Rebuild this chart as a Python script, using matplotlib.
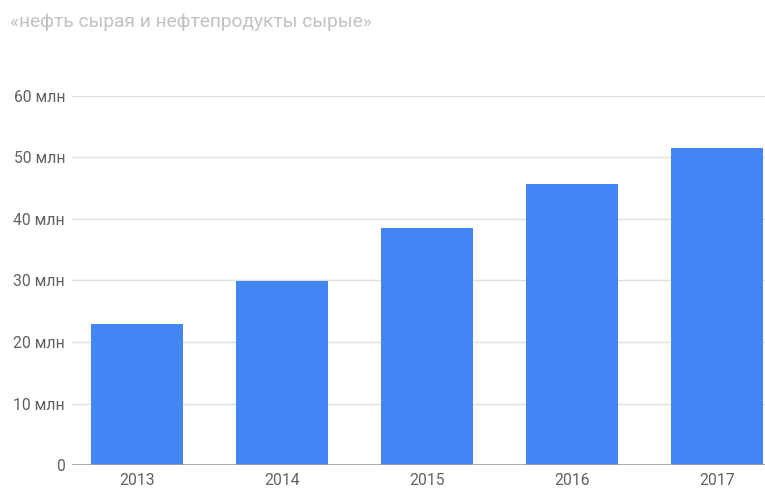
import matplotlib
matplotlib.use("Agg")
import matplotlib.pyplot as plt

years = ["2013", "2014", "2015", "2016", "2017"]
values = [22.9, 29.9, 38.5, 45.7, 51.5]  # млн
yticks = [0, 10, 20, 30, 40, 50, 60]
ytick_labels = ["0", "10 млн", "20 млн", "30 млн", "40 млн", "50 млн", "60 млн"]
title = "«нефть сырая и нефтепродукты сырые»"

plt.rcParams['font.family'] = ['Roboto', 'DejaVu Sans']

fig = plt.figure(figsize=(7.65, 4.9), dpi=100)
ax = fig.add_axes([72/765, 25/490, 1 - 72/765, (465-96)/490])

x = list(range(len(years)))
ax.bar(x, values, width=0.634, color="#4285F4", zorder=3)

ax.set_ylim(0, 60)
ax.set_xlim((72-137)/145, (765-137)/145)
ax.set_yticks(yticks)
ax.set_yticklabels(ytick_labels)
ax.set_xticks(x)
ax.set_xticklabels(years)
ax.grid(axis='y', color="#e0e0e0", linewidth=1, zorder=0)
ax.axhline(0, color="#9e9e9e", linewidth=1.2, zorder=4)
for s in ax.spines.values():
    s.set_visible(False)
ax.tick_params(axis='both', length=0, labelsize=11.3, labelcolor="#616161")
ax.tick_params(axis='y', pad=5)
ax.tick_params(axis='x', pad=6)

fig.text(10/765, 1 - 22/490, title, fontsize=13.8, color="#c2c2c2", va='center', ha='left')

fig.savefig("out.png", dpi=100)
